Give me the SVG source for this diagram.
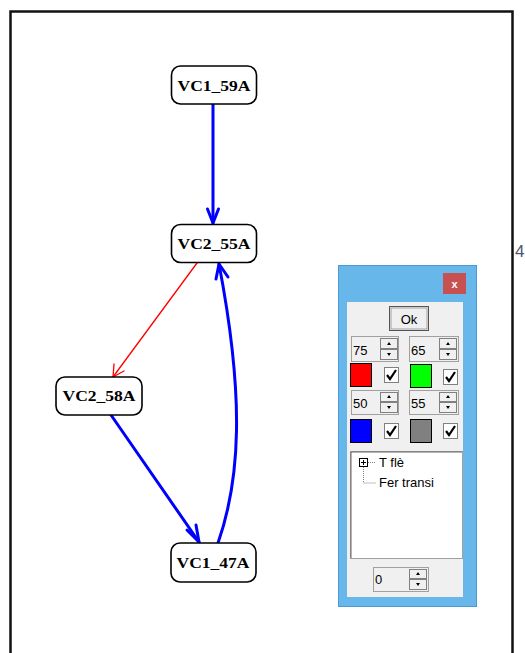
<svg xmlns="http://www.w3.org/2000/svg" width="525" height="653" viewBox="0 0 525 653">
<style>
.node rect{fill:#fff;stroke:#000;stroke-width:1.6}
.node text{font-family:"Liberation Serif",serif;font-weight:bold;font-size:15px;fill:#000;text-anchor:middle}
.ui{font-family:"Liberation Sans",Arial,sans-serif;font-size:13px;fill:#000}
.btn{fill:#f0f0f0;stroke:#808080;stroke-width:1}
.chk{fill:#fff;stroke:#808080;stroke-width:1}
.tick{fill:none;stroke:#000;stroke-width:2.2}
</style>
<rect x="0" y="0" width="525" height="653" fill="#fff"/>
<rect x="10.5" y="11.5" width="502" height="660" fill="none" stroke="#111" stroke-width="2.5"/>
<text x="515" y="257" font-family="Liberation Sans,sans-serif" font-size="17" fill="#4a5a6e">4</text>

<g id="connectors" fill="none" stroke-linecap="round" stroke-linejoin="round">
  <g stroke="#0000ff" stroke-width="3">
    <path d="M213 104 L213 223"/>
    <path d="M207.5 209 L213 223 L218.5 209"/>
    <path d="M111 415 L199 542"/>
    <path d="M187 530 L199 542 L196 525"/>
    <path d="M218 543 C240 480 245 400 219 264"/>
    <path d="M216 279 L219 264 L228 277"/>
  </g>
  <g stroke="#ff0000" stroke-width="1.3">
    <path d="M197 263 L113 377"/>
    <path d="M114 364 L113 377 L124 371"/>
  </g>
</g>

<g id="VC1_59A" class="node"><rect x="171.5" y="66" width="85" height="38" rx="9"/><text x="214" y="91" textLength="73" lengthAdjust="spacingAndGlyphs">VC1_59A</text></g>
<g id="VC2_55A" class="node"><rect x="171.5" y="224.5" width="85" height="38" rx="9"/><text x="214" y="249" textLength="73" lengthAdjust="spacingAndGlyphs">VC2_55A</text></g>
<g id="VC2_58A" class="node"><rect x="56" y="377" width="86" height="38" rx="9"/><text x="99" y="401" textLength="73" lengthAdjust="spacingAndGlyphs">VC2_58A</text></g>
<g id="VC1_47A" class="node"><rect x="171" y="543" width="85" height="39" rx="9"/><text x="213" y="568" textLength="73" lengthAdjust="spacingAndGlyphs">VC1_47A</text></g>

<g id="dialog">
  <rect x="338.5" y="265.5" width="138" height="341" fill="#67b7eb" stroke="#4a9ad3" stroke-width="1"/>
  <rect x="443" y="273" width="23" height="21" fill="#c75050"/>
  <text x="454.5" y="288" font-family="Liberation Sans,sans-serif" font-weight="bold" font-size="11" fill="#fff" text-anchor="middle">x</text>
  <rect x="347" y="302" width="116" height="295" fill="#f0f0f0"/>
  <rect x="389.5" y="306.5" width="39" height="24" fill="#f0f0f0" stroke="#555" stroke-width="1"/>
  <rect x="391" y="308" width="36" height="21" fill="none" stroke="#a0a0a0" stroke-width="1"/>
  <text x="409" y="324" class="ui" text-anchor="middle">Ok</text>

  <g id="spin75">
    <rect x="351.5" y="336.5" width="47" height="25" fill="#f0f0f0" stroke="#a0a0a0"/>
    <text x="353" y="355" class="ui">75</text>
    <rect x="380.5" y="338.5" width="17" height="10" class="btn"/><rect x="380.5" y="349.5" width="17" height="10" class="btn"/>
    <path d="M387 345 L389 342 L391 345Z M387 353 L389 356 L391 353Z" fill="#000"/>
  </g>
  <g id="spin65">
    <rect x="409.5" y="336.5" width="49" height="25" fill="#f0f0f0" stroke="#a0a0a0"/>
    <text x="411" y="355" class="ui">65</text>
    <rect x="439.5" y="338.5" width="17" height="10" class="btn"/><rect x="439.5" y="349.5" width="17" height="10" class="btn"/>
    <path d="M446 345 L448 342 L450 345Z M446 353 L448 356 L450 353Z" fill="#000"/>
  </g>
  <rect x="350.5" y="363.5" width="21" height="23" fill="#ff0000" stroke="#000"/>
  <rect x="384.5" y="367.5" width="14" height="15" class="chk"/>
  <path d="M387 375 L390 379 L396 370" class="tick"/>
  <rect x="410.5" y="364.5" width="21" height="23" fill="#00ff00" stroke="#000"/>
  <rect x="443.5" y="369.5" width="14" height="15" class="chk"/>
  <path d="M446 377 L449 381 L455 372" class="tick"/>

  <g id="spin50">
    <rect x="351.5" y="390.5" width="47" height="24" fill="#f0f0f0" stroke="#a0a0a0"/>
    <text x="353" y="408" class="ui">50</text>
    <rect x="380.5" y="392.5" width="17" height="9" class="btn"/><rect x="380.5" y="402.5" width="17" height="10" class="btn"/>
    <path d="M387 398 L389 395 L391 398Z M387 406 L389 409 L391 406Z" fill="#000"/>
  </g>
  <g id="spin55">
    <rect x="409.5" y="390.5" width="49" height="24" fill="#f0f0f0" stroke="#a0a0a0"/>
    <text x="411" y="408" class="ui">55</text>
    <rect x="439.5" y="392.5" width="17" height="9" class="btn"/><rect x="439.5" y="402.5" width="17" height="10" class="btn"/>
    <path d="M446 398 L448 395 L450 398Z M446 406 L448 409 L450 406Z" fill="#000"/>
  </g>
  <rect x="350.5" y="419.5" width="21" height="23" fill="#0000ff" stroke="#000"/>
  <rect x="384.5" y="423.5" width="14" height="15" class="chk"/>
  <path d="M387 431 L390 435 L396 426" class="tick"/>
  <rect x="410.5" y="419.5" width="21" height="23" fill="#808080" stroke="#000"/>
  <rect x="443.5" y="423.5" width="14" height="15" class="chk"/>
  <path d="M446 431 L449 435 L455 426" class="tick"/>

  <rect x="350.5" y="451.5" width="112" height="107" fill="#fff" stroke="#a0a0a0"/>
  <line x1="351" y1="452" x2="462" y2="452" stroke="#696969"/>
  <line x1="351" y1="452" x2="351" y2="558" stroke="#696969"/>
  <rect x="359.5" y="458.5" width="8" height="8" fill="#fff" stroke="#000"/>
  <path d="M361 462.5 H366 M363.5 460 V465" stroke="#000" stroke-width="1"/>
  <path d="M368 462.5 H376 M363.5 467 V483 H376" stroke="#808080" stroke-width="1" stroke-dasharray="1 1" fill="none"/>
  <text x="379" y="467" class="ui">T flè</text>
  <text x="379" y="487" class="ui">Fer transi</text>

  <g id="spin0">
    <rect x="373.5" y="567.5" width="55" height="24" fill="#f0f0f0" stroke="#a0a0a0"/>
    <text x="375" y="584" class="ui">0</text>
    <rect x="409.5" y="569.5" width="17" height="9" class="btn"/><rect x="409.5" y="579.5" width="17" height="10" class="btn"/>
    <path d="M416 575 L418 572 L420 575Z M416 583 L418 586 L420 583Z" fill="#000"/>
  </g>
</g>
</svg>
